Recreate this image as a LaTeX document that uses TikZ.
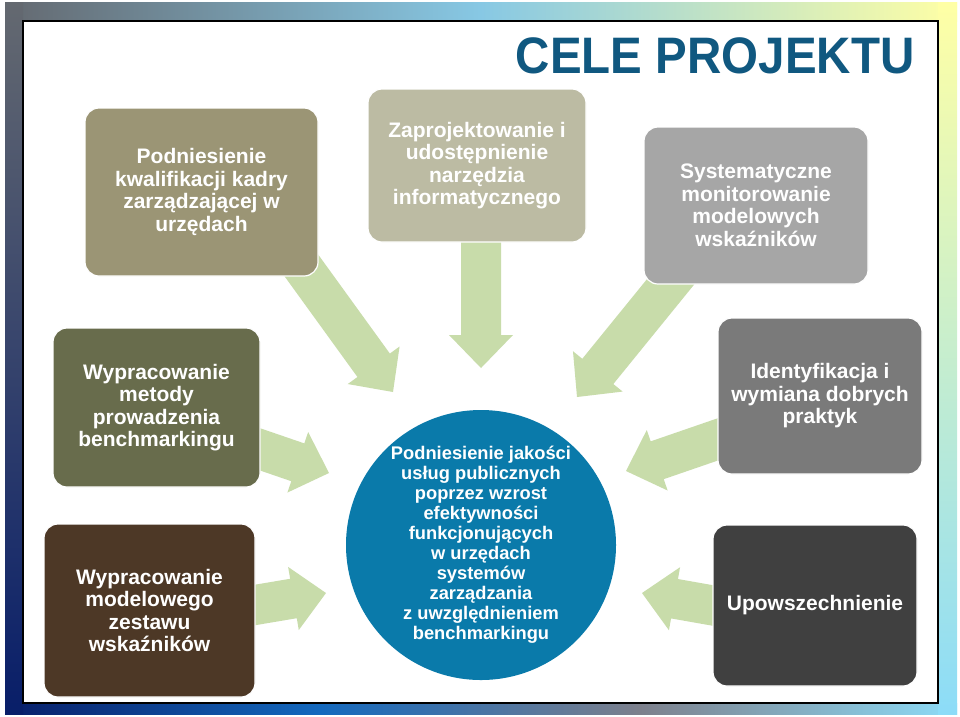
\documentclass[tikz,border=0pt]{standalone}
\usepackage{fontspec}
\setmainfont{Liberation Sans}
\usepackage{xcolor}
\usepackage{tikz}
\usetikzlibrary{calc}
\definecolor{goalTitle}{RGB}{16,88,128}
\definecolor{goalOlive}{RGB}{155,149,117}
\definecolor{goalSand}{RGB}{188,187,163}
\definecolor{goalGray}{RGB}{166,166,166}
\definecolor{goalMoss}{RGB}{104,108,76}
\definecolor{goalBrown}{RGB}{77,56,38}
\definecolor{goalSlate}{RGB}{122,122,122}
\definecolor{goalCoal}{RGB}{64,64,64}
\definecolor{goalBlue}{RGB}{10,122,170}
\definecolor{arrowGreen}{RGB}{200,220,170}
\definecolor{frameGray}{RGB}{100,105,112}
\definecolor{frameSky}{RGB}{135,200,228}
\definecolor{framePale}{RGB}{225,245,180}
\definecolor{frameLemon}{RGB}{255,255,165}
\definecolor{frameNavy}{RGB}{8,30,105}
\definecolor{frameBlue}{RGB}{20,105,190}
\definecolor{frameSteel}{RGB}{125,128,140}
\definecolor{frameCyan}{RGB}{140,220,248}
\definecolor{frameDeep}{RGB}{25,95,150}
\definecolor{frameMint}{RGB}{200,240,200}
\pgfdeclarelayer{frame}
\pgfdeclarelayer{arrows}
\pgfsetlayers{frame,arrows,main}
\tikzset{
	goalbox/.style={rectangle, rounded corners=14pt, draw=white, line width=1.2pt, text=white, align=center, inner sep=0pt, outer sep=0pt, font=\bfseries\fontsize{21}{22.5}\selectfont},
	fatarrow/.style={fill=arrowGreen}
}
% block arrow from #1 to the tip #2
\newcommand{\blockarrow}[2]{%
	\path ($(#1)!-30pt!(#2)$) coordinate (tail) ($(#2)!33pt!(#1)$) coordinate (neck);
	\fill[fatarrow] ($(tail)!20pt!90:(#2)$) -- ($(neck)!20pt!90:(#2)$) -- ($(neck)!32pt!90:(#2)$) -- (#2)
		-- ($(neck)!32pt!-90:(#2)$) -- ($(neck)!20pt!-90:(#2)$) -- ($(tail)!20pt!-90:(#2)$) -- cycle;
}

\begin{document}
\begin{tikzpicture}[x=1pt, y=-1pt]
	\useasboundingbox (0,0) rectangle (960,716);
	\begin{pgfonlayer}{frame}
		\shade[left color=frameGray, right color=frameSky] (5,2) rectangle (480,21);
		\shade[left color=frameSky, middle color=framePale, right color=frameLemon] (480,2) rectangle (957,21);
		\shade[left color=frameNavy, right color=frameBlue] (5,703) rectangle (320,714);
		\shade[left color=frameBlue, right color=frameSteel] (320,703) rectangle (640,714);
		\shade[left color=frameSteel, right color=frameCyan] (640,703) rectangle (957,714);
		\shade[top color=frameGray, middle color=frameDeep, bottom color=frameNavy] (5,2) rectangle (23,714);
		\shade[top color=frameLemon, middle color=frameMint, bottom color=frameCyan] (938,2) rectangle (957,714);
		\filldraw[fill=white, draw=black, line width=1.5pt] (23,21) rectangle (938,703);
	\end{pgfonlayer}

	\node[anchor=base east, text=goalTitle, font=\bfseries\fontsize{47.5}{50}\selectfont] (title) at (918,73) {\scalebox{1}[1.08]{CELE PROJEKTU}};

	\node[goalbox, fill=goalOlive, minimum width=233pt, minimum height=168pt] (qualify) at (201.5,192) {Podniesienie\\kwalifikacji kadry\\zarządzającej w\\urzędach};
	\node[goalbox, fill=goalSand, minimum width=218pt, minimum height=153pt] (tool) at (477,165.5) {Zaprojektowanie i\\udostępnienie\\narzędzia\\informatycznego};
	\node[goalbox, fill=goalGray, minimum width=224pt, minimum height=157pt] (monitor) at (756,205.5) {Systematyczne\\monitorowanie\\modelowych\\wskaźników};
	\node[goalbox, fill=goalMoss, minimum width=207pt, minimum height=159pt] (method) at (156.5,407.5) {Wypracowanie\\metody\\prowadzenia\\benchmarkingu};
	\node[goalbox, fill=goalBrown, minimum width=211pt, minimum height=173pt] (indicators) at (149.5,610.5) {Wypracowanie\\modelowego\\zestawu\\wskaźników};
	\node[goalbox, fill=goalSlate, minimum width=204pt, minimum height=156pt] (practice) at (820,396) {Identyfikacja i\\wymiana dobrych\\praktyk};
	\node[goalbox, fill=goalCoal, minimum width=204pt, minimum height=161pt] (spread) at (815,605.5) {Upowszechnienie};

	\node[circle, fill=goalBlue, minimum size=270pt, inner sep=0pt, text=white, align=center, font=\bfseries\fontsize{18.3}{20}\selectfont] (quality) at (481,545) {Podniesienie jakości\\usług publicznych\\poprzez wzrost\\efektywności\\funkcjonujących\\w urzędach\\systemów\\zarządzania\\z uwzględnieniem\\benchmarkingu};

	\coordinate (tipA) at (393,392);
	\coordinate (tipB) at (481,368);
	\coordinate (tipC) at (577,397);
	\coordinate (tipD) at (329,473);
	\coordinate (tipE) at (326,593);
	\coordinate (tipF) at (626,471);
	\coordinate (tipG) at (642,593);

	\begin{pgfonlayer}{arrows}
		\blockarrow{qualify.-38}{tipA}
		\blockarrow{tool.-87}{tipB}
		\blockarrow{monitor.222}{tipC}
		\blockarrow{method.-22}{tipD}
		\blockarrow{indicators.3}{tipE}
		\blockarrow{practice.203}{tipF}
		\blockarrow{spread.west}{tipG}
	\end{pgfonlayer}
\end{tikzpicture}
\end{document}
